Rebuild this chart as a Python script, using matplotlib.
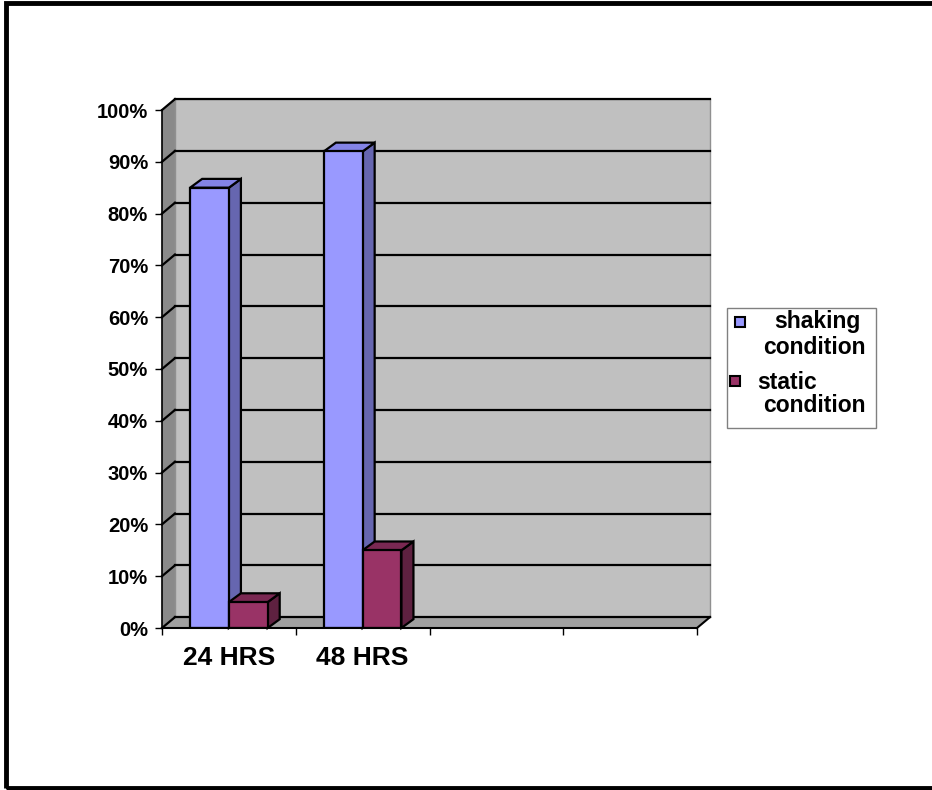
import matplotlib.pyplot as plt
from matplotlib.patches import Polygon, Rectangle

plt.rcParams['font.family'] = ['Liberation Sans', 'DejaVu Sans']
plt.rcParams['font.weight'] = 'bold'

# data
categories = ['24 HRS', '48 HRS', '', '']
shaking = [0.85, 0.92]
static = [0.05, 0.15]
y_ticks = [0, 0.1, 0.2, 0.3, 0.4, 0.5, 0.6, 0.7, 0.8, 0.9, 1.0]
y_labels = ['0%', '10%', '20%', '30%', '40%', '50%', '60%', '70%', '80%', '90%', '100%']

# colours (front, side, top)
shake_cols = ('#9999FF', '#6666B0', '#8383E6')
static_cols = ('#993366', '#5E2140', '#7A2852')

# 3d depth offsets in data units
wall_dx, wall_dy = 0.097, 0.021
bar_dx, bar_dy = 0.09, 0.017
bar_w = 0.29
n = len(categories)

W, H = 932, 790
fig = plt.figure(figsize=(W / 100, H / 100), dpi=100)
fig.patches.append(Rectangle((6 / W, 2 / H), 1.0, 785 / H, transform=fig.transFigure,
                             fill=False, edgecolor='black', linewidth=3.5))

ax = fig.add_axes([162 / W, 162 / H, 535 / W, 518 / H])
ax.set_xlim(0, n)
ax.set_ylim(0, 1)
ax.patch.set_visible(False)
for s in ['top', 'right']:
    ax.spines[s].set_visible(False)
ax.spines['left'].set_linewidth(1.2)
ax.spines['bottom'].set_linewidth(1.5)
ax.spines['bottom'].set_zorder(4)


def poly(pts, fc, ec='black', lw=1.5, z=2):
    ax.add_patch(Polygon(pts, closed=True, facecolor=fc, edgecolor=ec, linewidth=lw,
                         zorder=z, clip_on=False))


# back wall
poly([(wall_dx, wall_dy), (n + wall_dx, wall_dy), (n + wall_dx, 1 + wall_dy), (wall_dx, 1 + wall_dy)],
     '#C0C0C0', ec='#909090', lw=1, z=0)
# side wall
poly([(0, 0), (wall_dx, wall_dy), (wall_dx, 1 + wall_dy), (0, 1)], '#8A8A8A', ec='none', z=0.5)
# floor
poly([(0, 0), (n, 0), (n + wall_dx, wall_dy), (wall_dx, wall_dy)], '#A0A0A0', ec='none', z=0.5)
ax.plot([n, n + wall_dx], [0, wall_dy], color='black', lw=1.5, clip_on=False, zorder=1)

# gridlines on back and side wall
for v in y_ticks:
    ax.plot([wall_dx, n + wall_dx], [v + wall_dy, v + wall_dy], color='black', lw=1.6,
            clip_on=False, zorder=1)
    ax.plot([0, wall_dx], [v, v + wall_dy], color='black', lw=1.6, clip_on=False, zorder=1)


def bar3d(x0, h, cols, z):
    ax.bar(x0, h, width=bar_w, align='edge', color=cols[0], edgecolor='black',
           linewidth=1.6, zorder=z + 0.2)
    x1 = x0 + bar_w
    poly([(x1, 0), (x1 + bar_dx, bar_dy), (x1 + bar_dx, h + bar_dy), (x1, h)], cols[1], lw=1.6, z=z)
    poly([(x0, h), (x1, h), (x1 + bar_dx, h + bar_dy), (x0 + bar_dx, h + bar_dy)], cols[2], lw=1.6, z=z)


for i, (a, b) in enumerate(zip(shaking, static)):
    bar3d(i + 0.21, a, shake_cols, 2 + i)
    bar3d(i + 0.5, b, static_cols, 2.5 + i)

# axes ticks and labels
ax.set_yticks(y_ticks)
ax.set_yticklabels(y_labels, fontsize=14.5, fontweight='bold')
ax.tick_params(axis='y', length=5, width=1, pad=5)
ax.set_xticks(range(n + 1))
ax.set_xticklabels([])
ax.tick_params(axis='x', which='major', length=5, width=1)
ax.set_xticks([i + 0.5 for i in range(n)], minor=True)
ax.set_xticklabels(categories, minor=True, fontsize=19, fontweight='bold')
ax.tick_params(axis='x', which='minor', length=0, pad=13)

# legend box, drawn by hand so the wrapped labels sit like the original
fig.patches.append(Rectangle((727 / W, 1 - 428 / H), 149 / W, 120 / H, transform=fig.transFigure,
                             facecolor='white', edgecolor='#808080', linewidth=1))
legend_items = [
    (shake_cols[0], (735, 317), [('shaking', 774, 322), ('condition', 763, 347)]),
    (static_cols[0], (730, 376), [('static', 757, 383), ('condition', 763, 406)]),
]
for col, (mx, my), lines in legend_items:
    fig.patches.append(Rectangle((mx / W, 1 - (my + 10) / H), 10 / W, 10 / H,
                                 transform=fig.transFigure, facecolor=col,
                                 edgecolor='black', linewidth=1.5))
    for txt, tx, ty in lines:
        fig.text(tx / W, 1 - ty / H, txt, ha='left', va='center', fontsize=16.5,
                 fontweight='bold')

fig.savefig('out.png', dpi=100)
